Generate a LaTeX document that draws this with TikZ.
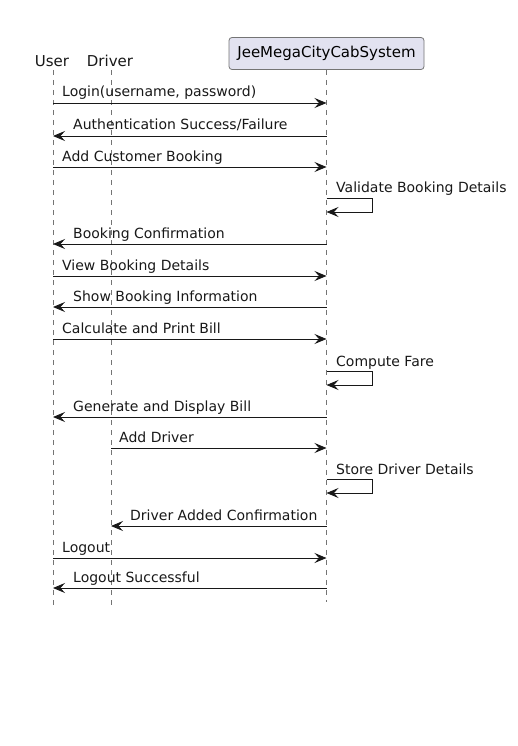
\documentclass[tikz,border=0pt]{standalone}
\usepackage{fontspec}
\setmainfont{DejaVu Sans}
\usetikzlibrary{positioning, arrows.meta}
\definecolor{umlline}{HTML}{181818}
\definecolor{umlfill}{HTML}{E2E2F0}

\begin{document}
\begin{tikzpicture}[
    x=1pt, y=-1pt,
    actor/.style = {font=\fontsize{15}{18}\selectfont, inner sep=0pt, anchor=base, text=umlline},
    part/.style = {draw=umlline!60, fill=umlfill, rounded corners=3pt, minimum width=195pt,
                   minimum height=32pt, inner sep=0pt, font=\fontsize{15}{18}\selectfont, line width=0.8pt},
    life/.style = {draw=umlline!60, dash pattern=on 5pt off 5pt, line width=0.7pt},
    msg/.style = {draw=umlline, line width=0.9pt, -{Stealth[length=12pt, width=10pt, inset=4.5pt]}},
    lbl/.style = {font=\fontsize{14}{16}\selectfont, inner sep=0pt, anchor=base west, text=umlline}
  ]
  \useasboundingbox (0,0) rectangle (517,746);

  % participants
  \node[actor] (user) at (52,67) {User};
  \node[actor] (driver) at (110,67) {Driver};
  \node[part] (sys) at (326.5,53.5) {JeeMegaCityCabSystem};

  \coordinate (userTop) at (53,70);
  \coordinate (userEnd) at (53,607);
  \coordinate (drvTop) at (111,70);
  \coordinate (drvEnd) at (111,607);
  \coordinate (sysTop) at (sys.south);
  \coordinate (sysEnd) at (sys.south |- 0,602);

  % lifelines
  \draw[life] (userTop) -- (userEnd);
  \draw[life] (drvTop) -- (drvEnd);
  \draw[life] (sysTop) -- (sysEnd);

  % user -> system
  \foreach \y/\t in {103/{Login(username, password)}, 167/{Add Customer Booking},
                     276/{View Booking Details}, 339/{Calculate and Print Bill}, 558/{Logout}} {
    \draw[msg] (userTop |- 0,\y) -- (sysTop |- 0,\y);
    \node[lbl] at (62,\y-6) {\t};
  }

  % system -> user
  \foreach \y/\t in {136/{Authentication Success/Failure}, 244/{Booking Confirmation},
                     307/{Show Booking Information}, 417/{Generate and Display Bill},
                     588/{Logout Successful}} {
    \draw[msg] (sysTop |- 0,\y) -- (userTop |- 0,\y);
    \node[lbl] at (73,\y-6) {\t};
  }

  % system -> system
  \foreach \y/\t in {198/{Validate Booking Details}, 371/{Compute Fare}, 479/{Store Driver Details}} {
    \draw[msg] (sysTop |- 0,\y) -- ++(46,0) -- ++(0,14) -- (sysTop |- 0,\y+14);
    \node[lbl] at (336,\y-5) {\t};
  }

  % driver <-> system
  \draw[msg] (drvTop |- 0,448) -- (sysTop |- 0,448);
  \node[lbl] at (119,442) {Add Driver};
  \draw[msg] (sysTop |- 0,526) -- (drvTop |- 0,526);
  \node[lbl] at (130,520) {Driver Added Confirmation};

\end{tikzpicture}
\end{document}
